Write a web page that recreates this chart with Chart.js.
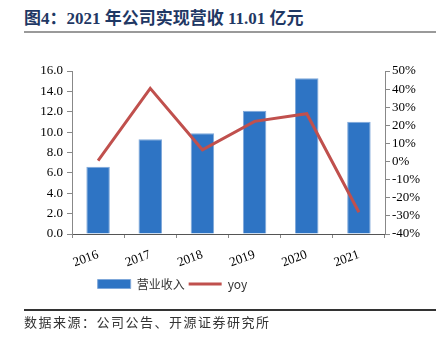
<!DOCTYPE html>
<html><head><meta charset="utf-8">
<script src="https://cdn.jsdelivr.net/npm/chart.js@4/dist/chart.umd.min.js"></script>
<style>
html,body{margin:0;padding:0;background:#fff;width:441px;height:342px;overflow:hidden;position:relative}
#c{position:absolute;left:0;top:0}
#title{position:absolute;left:24px;top:4px;font:bold 17px "Liberation Serif","Noto Sans CJK SC",serif;color:#1F3864;white-space:nowrap}
#tl{position:absolute;left:24px;top:31px;width:412px;height:2px;background:#9a9a9a}
#bl{position:absolute;left:24px;top:309px;width:412px;height:1.5px;background:#333}
#src{position:absolute;left:24px;top:312px;font:13px "Noto Sans CJK SC",sans-serif;letter-spacing:1.5px;color:#333;white-space:nowrap}
</style></head>
<body>
<div id="title">图4：2021 年公司实现营收 11.01 亿元</div>
<div id="tl"></div>
<canvas id="c" width="441" height="342"></canvas>
<div id="bl"></div>
<div id="src">数据来源：公司公告、开源证券研究所</div>
<script>
const categories = ['2016','2017','2018','2019','2020','2021'];
const revenue = [6.6, 9.3, 9.9, 12.1, 15.3, 11.01];
const yoy = [0.5, 40.4, 6.5, 22.2, 26.4, -28.0];
const leftTicks = [0,2,4,6,8,10,12,14,16];
const rightTicks = [-40,-30,-20,-10,0,10,20,30,40,50];

const serif = '"Liberation Serif","Times New Roman",serif';
const shiftLegend = {
  id:'shiftLegend',
  beforeDraw(chart){ const l = chart.legend; if (l && !l._shifted){ l.left -= 48; l.right -= 48; l._shifted = true; } }
};
new Chart(document.getElementById('c'), {
  data: {
    labels: categories,
    datasets: [
      {type:'line', label:'yoy', data: yoy, yAxisID:'y1', borderColor:'#C0504D', backgroundColor:'#C0504D',
       borderWidth:3, pointRadius:0, tension:0, pointStyle:'line', order:0},
      {type:'bar', label:'营业收入', data: revenue, yAxisID:'y', backgroundColor:'#2E74C4',
       borderColor:'#7FA8DA', borderWidth:1, barPercentage:0.45, categoryPercentage:1, pointStyle:'rect', order:1}
    ]
  },
  plugins:[shiftLegend],
  options: {
    responsive:false, animation:false,
    layout:{padding:{left:0,right:0,top:71,bottom:42}},
    plugins:{
      tooltip:{enabled:false},
      legend:{position:'bottom', reverse:true,
        labels:{usePointStyle:true, pointStyleWidth:33, boxHeight:9, padding:4,
          font:{family:'"Noto Sans CJK SC",'+serif, size:12}, color:'#333'}}
    },
    scales:{
      x:{offset:true, grid:{offset:true, drawOnChartArea:false, drawTicks:true, tickLength:4, color:'#888'},
         border:{display:true, color:'#555', width:1},
         ticks:{minRotation:20, maxRotation:20, color:'#000', font:{family:serif, size:13}, padding:9},
         afterFit:s=>{s.height=40;}},
      y:{position:'left', min:0, max:16, afterBuildTicks:s=>{s.ticks=leftTicks.map(v=>({value:v}));},
         grid:{drawOnChartArea:false, tickLength:5, color:'#888'}, border:{display:true,color:'#888'},
         ticks:{autoSkip:false, color:'#000', font:{family:serif, size:13}, callback:v=>v.toFixed(1), padding:4},
         afterFit:s=>{s.width=72;}},
      y1:{position:'right', min:-40, max:50, afterBuildTicks:s=>{s.ticks=rightTicks.map(v=>({value:v}));},
         grid:{drawOnChartArea:false, tickLength:5, color:'#888'}, border:{display:true,color:'#888'},
         ticks:{autoSkip:false, color:'#000', font:{family:serif, size:13}, callback:v=>v+'%', padding:2},
         afterFit:s=>{s.width=56;}}
    }
  }
});
</script>
</body></html>
